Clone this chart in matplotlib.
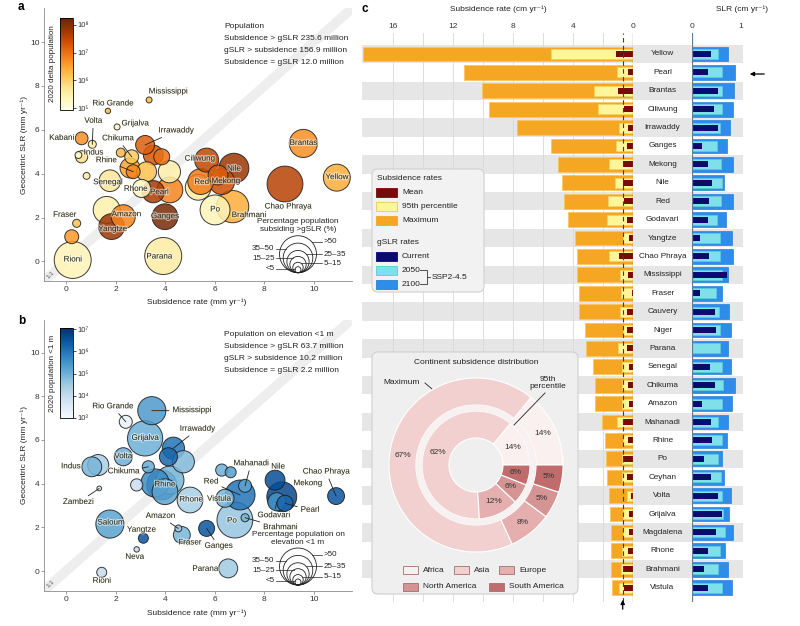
import numpy as np
import matplotlib
matplotlib.use('Agg')
import matplotlib.pyplot as plt
from matplotlib.colors import LogNorm
from matplotlib.cm import ScalarMappable
from matplotlib.patches import FancyBboxPatch, Rectangle, Circle, Wedge
from matplotlib.ticker import FixedLocator, FuncFormatter, NullLocator
import matplotlib.patheffects as pe

plt.rcParams['font.family'] = ['Liberation Sans', 'DejaVu Sans']
plt.rcParams['font.size'] = 6
plt.rcParams['axes.linewidth'] = 0.6

# ---------------- panel a data (subsidence mm/yr, gSLR mm/yr, % pop subsiding > gSLR, log10 delta pop) ----
a_names = ['Rioni', '', 'Fraser', 'Yangtze', '', 'Amazon', 'Senegal', '', 'Indus', '', 'Kabani', 'Volta',
           'Rio Grande', 'Grijalva', 'Mississippi', '', 'Chikuma', '', 'Rhine', 'Irrawaddy', '', '', '', '',
           'Rhone', 'Pearl', '', 'Ganges', 'Parana', '', 'Red', 'Ciliwung', 'Nile', '', 'Mekong', 'Brahmani',
           'Po', 'Chao Phraya', 'Brantas', 'Yellow']
a_subs = [0.27, 0.23, 0.43, 1.84, 1.64, 2.31, 1.77, 0.83, 0.50, 0.63, 0.63, 1.06,
          1.69, 2.06, 3.35, 2.21, 2.65, 2.58, 2.71, 3.19, 3.52, 3.86, 3.25, 4.17,
          3.05, 3.52, 4.19, 3.99, 3.92, 5.33, 5.43, 5.67, 6.77, 6.13, 6.28, 6.72,
          6.01, 8.83, 9.57, 10.92]
a_gslr = [0.07, 1.13, 1.74, 1.59, 2.35, 2.04, 3.68, 3.90, 4.85, 4.77, 5.61, 5.34,
          6.86, 6.13, 7.36, 4.96, 4.77, 4.26, 4.09, 5.31, 4.85, 4.77, 4.09, 4.09,
          3.33, 3.18, 3.26, 2.04, 0.25, 3.38, 3.64, 4.62, 4.25, 3.94, 3.64, 2.50,
          2.35, 3.53, 5.38, 3.82]
a_pct = [55, 16, 6, 36, 38, 33, 29, 4, 4, 13, 14, 6,
         1.5, 2.5, 2.5, 7.6, 16, 26, 16, 24.5, 26, 19.5, 26, 30,
         23, 30, 36, 36, 55, 36, 36, 33, 43, 26, 36, 47,
         43, 53, 40, 38]
a_logpop = [5.4, 6.6, 6.2, 7.8, 5.5, 6.8, 5.7, 5.6, 5.1, 5.8, 6.7, 5.6,
            6.3, 5.3, 6.3, 6.3, 6.1, 6.5, 6.8, 7.2, 7.3, 7.0, 6.2, 5.5,
            5.3, 7.7, 6.8, 8.1, 5.6, 5.6, 6.9, 7.5, 7.8, 7.2, 7.4, 6.4,
            5.4, 7.6, 6.7, 6.4]

# ---------------- panel b data (% pop on elevation <1 m, log10 pop <1 m) ----
b_names = ['Mississippi', 'Rio Grande', 'Grijalva', 'Irrawaddy', '', '', 'Volta', 'Indus', '', 'Chikuma',
           '', 'Zambezi', '', '', '', 'Rhine', 'Rhone', 'Saloum', 'Amazon', 'Fraser', 'Yangtze', 'Ganges',
           'Neva', 'Rioni', 'Parana', '', '', 'Po', 'Red', 'Vistula', 'Mahanadi', 'Brahmani', 'Mekong',
           'Nile', 'Godavari', 'Pearl', 'Chao Phraya']
b_subs = [3.46, 2.41, 3.19, 4.33, 4.13, 4.73, 2.31, 1.04, 1.30, 3.32,
          2.85, 1.34, 3.59, 4.19, 3.99, 3.86, 5.00, 1.77, 4.53, 4.67, 3.12, 5.67,
          2.85, 1.44, 6.54, 6.28, 6.64, 6.81, 7.02, 6.41, 7.22, 7.22, 8.70,
          8.43, 8.50, 8.83, 10.89]
b_gslr = [7.34, 6.83, 6.07, 5.62, 5.23, 5.00, 5.23, 4.77, 4.85, 4.77,
          3.94, 3.78, 4.03, 4.16, 3.63, 3.94, 3.25, 2.15, 1.95, 1.65, 1.50, 1.95,
          0.99, -0.06, 0.12, 4.62, 4.52, 2.33, 3.48, 3.33, 3.90, 2.44, 3.40,
          4.16, 3.17, 3.10, 3.43]
b_pct = [40, 14.4, 52, 30, 23, 30, 23, 26, 28, 13,
         13, 0.3, 40, 40, 36, 43, 36, 40, 4, 21, 9.3, 19.5,
         1.5, 9.3, 24.5, 13, 11, 53, 43, 23, 14.4, 6, 43,
         26, 23, 19.5, 21]
b_logpop = [5.4, 3.3, 5.0, 6.0, 6.2, 4.8, 5.0, 4.9, 4.4, 5.1,
            3.9, 3.5, 5.6, 4.9, 5.2, 6.1, 4.4, 5.2, 4.4, 4.9, 6.5, 6.5,
            4.0, 4.0, 4.5, 5.0, 5.3, 4.6, 6.0, 4.9, 5.2, 4.9, 6.7,
            6.6, 5.5, 6.2, 6.5]

# ---------------- panel c data (cm/yr) ----
c_names = ['Yellow', 'Pearl', 'Brantas', 'Ciliwung', 'Irrawaddy', 'Ganges', 'Mekong', 'Nile', 'Red',
           'Godavari', 'Yangtze', 'Chao Phraya', 'Mississippi', 'Fraser', 'Cauvery', 'Niger', 'Parana',
           'Senegal', 'Chikuma', 'Amazon', 'Mahanadi', 'Rhine', 'Po', 'Ceyhan', 'Volta', 'Grijalva',
           'Magdalena', 'Rhone', 'Brahmani', 'Vistula']
sub_max = [18.0, 11.3, 10.1, 9.6, 7.75, 5.5, 5.0, 4.75, 4.62, 4.33, 3.84, 3.73, 3.71, 3.62, 3.62,
           3.18, 3.11, 2.69, 2.56, 2.51, 2.04, 1.84, 1.80, 1.76, 1.62, 1.53, 1.49, 1.49, 1.44, 1.38]
sub_p95 = [5.5, 1.05, 2.6, 2.35, 0.91, 1.13, 1.62, 1.18, 1.64, 1.76, 0.64, 1.58, 0.87, 0.80, 0.87,
           0.69, 0.98, 0.76, 0.76, 0.71, 1.05, 0.64, 0.76, 0.71, 0.42, 0.64, 0.64, 0.76, 0.82, 0.91]
sub_mean = [1.13, 0.36, 0.98, 0.58, 0.31, 0.42, 0.64, 0.69, 0.58, 0.42, 0.24, 0.91, 0.36, 0.09, 0.42,
            0.38, 0.42, 0.24, 0.31, 0.27, 0.64, 0.31, 0.64, 0.42, 0.16, 0.29, 0.29, 0.36, 0.69, 0.58]
slr_now = [0.38, 0.32, 0.54, 0.45, 0.54, 0.20, 0.33, 0.41, 0.35, 0.32, 0.16, 0.35, 0.71, 0.16, 0.47,
           0.48, 0.03, 0.37, 0.47, 0.20, 0.39, 0.40, 0.24, 0.39, 0.52, 0.61, 0.49, 0.33, 0.24, 0.33]
slr_2050 = [0.52, 0.61, 0.61, 0.61, 0.57, 0.50, 0.59, 0.61, 0.59, 0.50, 0.57, 0.57, 0.61, 0.48, 0.55,
            0.57, 0.57, 0.62, 0.64, 0.61, 0.52, 0.61, 0.54, 0.59, 0.61, 0.64, 0.67, 0.57, 0.52, 0.62]
slr_2100 = [0.74, 0.88, 0.85, 0.83, 0.78, 0.71, 0.84, 0.66, 0.84, 0.69, 0.81, 0.83, 0.73, 0.62, 0.76,
            0.79, 0.74, 0.79, 0.88, 0.82, 0.73, 0.71, 0.62, 0.65, 0.80, 0.76, 0.84, 0.67, 0.73, 0.81]
ref_rate = 0.67

cont_names = ['Africa', 'Asia', 'Europe', 'North America', 'South America']
max_share = [14, 67, 8, 5, 5]
p95_share = [14, 62, 12, 6, 6]

size_cats = ['<5', '5\u201315', '15\u201325', '25\u201335', '35\u201350', '>50']
size_rep = [2.5, 10, 20, 30, 42.5, 55]

a_totals = ['Population', 'Subsidence > gSLR 235.6 million', 'gSLR > subsidence 156.9 million',
            'Subsidence = gSLR 12.0 million']
b_totals = ['Population on elevation <1 m', 'Subsidence > gSLR 63.7 million',
            'gSLR > subsidence 10.2 million', 'Subsidence = gSLR 2.2 million']

# ---------------- label placement (px offsets dx, dy(down), leader) ----
a_lab = {'Mississippi': (19, -8, 0), 'Rio Grande': (5, -7, 0), 'Grijalva': (18, -3, 0),
         'Volta': (1, -23, 1), 'Kabani': (-20, 0, 0), 'Indus': (15, -2, 0), 'Chikuma': (-14, -18, 1),
         'Rhine': (-27, -11, 1), 'Irrawaddy': (31, -14, 1), 'Senegal': (-2, 2, 0), 'Rhone': (-6, 1, 0),
         'Pearl': (6, 1, 0), 'Amazon': (3, -2, 0), 'Yangtze': (1, 3, 0), 'Ganges': (0, 0, 0),
         'Parana': (-4, 1, 0), 'Fraser': (-12, -8, 0), 'Rioni': (0, 0, 0), 'Ciliwung': (-7, -1, 0),
         'Nile': (0, 1, 0), 'Red': (1, 1, 0), 'Mekong': (4, 0, 0), 'Po': (0, 0, 0),
         'Brahmani': (16, 9, 0), 'Chao Phraya': (3, 23, 0), 'Brantas': (0, 0, 0), 'Yellow': (0, 0, 0)}
b_lab = {'Mississippi': (40, 0, 1), 'Rio Grande': (-13, -15, 1), 'Grijalva': (0, 0, 0),
         'Irrawaddy': (24, -19, 1), 'Volta': (0, 0, 0), 'Indus': (-21, 0, 0), 'Chikuma': (-25, 5, 1),
         'Zambezi': (-21, 14, 1), 'Rhine': (3, 0, 0), 'Rhone': (1, 0, 0), 'Saloum': (1, -1, 0),
         'Amazon': (-18, -12, 1), 'Fraser': (8, 8, 0), 'Yangtze': (-2, -8, 0), 'Ganges': (12, 18, 1),
         'Neva': (-2, 8, 0), 'Rioni': (0, 9, 0), 'Parana': (-23, 1, 0), 'Mahanadi': (6, -22, 1),
         'Red': (-29, -13, 1), 'Vistula': (-6, 1, 0), 'Po': (-3, 1, 0), 'Brahmani': (35, 10, 1),
         'Nile': (3, -13, 0), 'Mekong': (26, -13, 0), 'Godavari': (-3, 14, 1), 'Pearl': (25, 7, 1),
         'Chao Phraya': (-10, -24, 1)}

W, H = 800, 626
fig = plt.figure(figsize=(8, 6.26), dpi=100)


def px_axes(x0, y0, x1, y1):
    return fig.add_axes([x0 / W, 1 - y1 / H, (x1 - x0) / W, (y1 - y0) / H])


def rad_px(p):
    return 2.26 + 0.295 * np.asarray(p, dtype=float)


SUP = str.maketrans('0123456789-', '\u2070\u00b9\u00b2\u00b3\u2074\u2075\u2076\u2077\u2078\u2079\u207b')


def sup_fmt(v, pos=None):
    return '10' + str(int(round(np.log10(v)))).translate(SUP)


TXT = '#2b2b14'
halo = [pe.withStroke(linewidth=1.6, foreground='#ffffff', alpha=0.55)]


def bubble_panel(ax, names, xs, ys, pct, logpop, cmap, norm, labs, ylim):
    xs = np.asarray(xs); ys = np.asarray(ys)
    r = rad_px(pct)
    order = np.argsort(-r)
    vals = 10 ** np.asarray(logpop)
    ax.plot([-2, 13], [-2, 13], color='#EEEEEE', lw=7, zorder=0, solid_capstyle='butt')
    ax.scatter(xs[order], ys[order], s=(1.44 * r[order]) ** 2, c=vals[order], cmap=cmap, norm=norm,
               edgecolors='#1a1a1a', linewidths=0.7, alpha=0.85, zorder=2)
    for n, x, y in zip(names, xs, ys):
        if not n:
            continue
        dx, dy, lead = labs[n]
        ap = dict(arrowstyle='-', color='#222222', lw=0.6, shrinkA=0.5, shrinkB=0) if lead else None
        ax.annotate(n, xy=(x, y), xytext=(dx * 0.72, -dy * 0.72), textcoords='offset points',
                    ha='center', va='center', fontsize=5.8, color=TXT, zorder=4,
                    path_effects=halo, arrowprops=ap)
    ax.set_xlim(-0.875, 11.52)
    ax.set_ylim(*ylim)
    ax.set_xticks([0, 2, 4, 6, 8, 10])
    ax.set_yticks([0, 2, 4, 6, 8, 10])
    for sp in ['top', 'right']:
        ax.spines[sp].set_visible(False)
    for sp in ['left', 'bottom']:
        ax.spines[sp].set_color('#8c8c8c')
    ax.tick_params(length=2, width=0.6, color='#8c8c8c', labelsize=6, labelcolor='#333333', pad=1.5)
    ax.patch.set_alpha(0)
    ax.text(-0.62, -0.6, '1:1', rotation=45, fontsize=4.5, color='#555555', ha='center', va='center')


# ---------------- panel a ----------------
axA = px_axes(44.3, 8, 351.7, 280.7)
normA = LogNorm(10 ** 4.93, 10 ** 8.25)
bubble_panel(axA, a_names, a_subs, a_gslr, a_pct, a_logpop, 'YlOrBr', normA, a_lab, (-0.875, 11.55))
caxA = px_axes(60, 18, 73, 110)
cbA = fig.colorbar(ScalarMappable(norm=normA, cmap='YlOrBr'), cax=caxA)
cbA.set_ticks([1e5, 1e6, 1e7, 1e8])

# ---------------- panel b ----------------
axB = px_axes(44.3, 320, 351.7, 591)
normB = LogNorm(1e3, 10 ** 7.05)
bubble_panel(axB, b_names, b_subs, b_gslr, b_pct, b_logpop, 'Blues', normB, b_lab, (-0.915, 11.49))
caxB = px_axes(60, 328, 73, 418)
cbB = fig.colorbar(ScalarMappable(norm=normB, cmap='Blues'), cax=caxB)
cbB.set_ticks([1e3, 1e4, 1e5, 1e6, 1e7])

for cb in (cbA, cbB):
    cb.ax.yaxis.set_major_formatter(FuncFormatter(sup_fmt))
    cb.ax.yaxis.set_minor_locator(NullLocator())
    cb.ax.tick_params(labelsize=5.5, length=2, width=0.5, pad=1.5, labelcolor='#333333')
    cb.outline.set_linewidth(0.6)

# ---------------- panel c ----------------
rows = np.arange(len(c_names))
YL = (29.78, -1.14)
axL = px_axes(362, 33, 633, 602)
axM = px_axes(633, 33, 692, 602)
axR = px_axes(692, 33, 743, 602)
for ax in (axL, axM, axR):
    for i in rows:
        if i % 2 == 0:
            ax.axhspan(i - 0.5, i + 0.5, color='#E6E6E6', lw=0, zorder=0)
    ax.set_ylim(*YL)
    for sp in ax.spines.values():
        sp.set_visible(False)
    ax.set_yticks([])

for g in range(2, 17, 2):
    axL.axvline(g, color='#D8D8D8', lw=0.6, zorder=0.5)
axL.barh(rows, sub_max, height=0.8, color='#F5A623', edgecolor='#F9C65E', lw=0.6, zorder=2)
axL.barh(rows, sub_p95, height=0.55, color='#FFF59A', edgecolor='#F2D45E', lw=0.6, zorder=3)
axL.barh(rows, sub_mean, height=0.32, color='#7A0A0A', lw=0, zorder=4)
axL.axvline(0, color='#8B7355', lw=0.9, zorder=5)
axL.axvline(ref_rate, color='#4a3a2a', lw=0.8, ls=(0, (4, 3)), zorder=5)
axL.set_xlim(18.07, 0)
axL.set_xticks([16, 12, 8, 4, 0])
axL.tick_params(axis='x', top=True, bottom=False, labeltop=True, labelbottom=False, length=0,
                pad=2, labelsize=6, labelcolor='#333333')

axM.set_xlim(0, 1)
axM.set_xticks([])
for i, n in zip(rows, c_names):
    axM.text(0.5, i, n, ha='center', va='center', fontsize=5.9, color='#222222')

axR.barh(rows, slr_2100, height=0.8, color='#2E8DEA', edgecolor='#2A7FD8', lw=0.5, zorder=2)
axR.barh(rows, slr_2050, height=0.55, color='#7FE0EA', edgecolor='#63CCDA', lw=0.5, zorder=3)
axR.barh(rows, slr_now, height=0.32, color='#0B0B6E', lw=0, zorder=4)
axR.axvline(0, color='#5f7f9a', lw=0.9, zorder=5)
axR.set_xlim(0, 1.04)
axR.set_xticks([0, 1])
axR.tick_params(axis='x', top=True, bottom=False, labeltop=True, labelbottom=False, length=0,
                pad=2, labelsize=6, labelcolor='#333333')

# ---------------- overlay (pixel coords) ----------------
ov = fig.add_axes([0, 0, 1, 1])
ov.set_xlim(0, W); ov.set_ylim(H, 0); ov.axis('off'); ov.set_zorder(5)


def T(x, y, s, **kw):
    kw.setdefault('va', 'center'); kw.setdefault('ha', 'left'); kw.setdefault('fontsize', 6)
    kw.setdefault('color', '#222222')
    return ov.text(x, y, s, **kw)


T(18, 7, 'a', fontsize=8.5, fontweight='bold', color='black')
T(18, 321, 'b', fontsize=8.5, fontweight='bold', color='black')
T(362, 9, 'c', fontsize=8.5, fontweight='bold', color='black')

for k, s in enumerate(a_totals):
    T(224, 27 + 11.7 * k, s, fontsize=6)
for k, s in enumerate(b_totals):
    T(224, 335 + 11.7 * k, s, fontsize=6)

T(197, 302, 'Subsidence rate (mm yr\u207b\u00b9)', ha='center', fontsize=6)
T(197, 613, 'Subsidence rate (mm yr\u207b\u00b9)', ha='center', fontsize=6)
T(24, 145, 'Geocentric SLR (mm yr\u207b\u00b9)', ha='center', rotation=90, fontsize=6)
T(24, 455, 'Geocentric SLR (mm yr\u207b\u00b9)', ha='center', rotation=90, fontsize=6)
T(53, 64, '2020 delta population', ha='center', rotation=90, fontsize=5.8)
T(53, 373, '2020 population <1 m', ha='center', rotation=90, fontsize=5.8)
T(498, 9, 'Subsidence rate (cm yr\u207b\u00b9)', ha='center', fontsize=6)
T(742, 9, 'SLR (cm yr\u207b\u00b9)', ha='center', fontsize=6)


def size_legend(cx, by, title, ly):
    radii = rad_px(size_rep)
    for r in radii[::-1]:
        ov.add_patch(Circle((cx, by - r), r, fill=False, ec='#222222', lw=0.6))
    T(cx, by - 47, title, ha='center', fontsize=5.9, linespacing=1.2)
    sides = [-1, 1, -1, 1, -1, 1]
    for k in range(6):
        r = radii[k]; cy = by - r; yy = ly[k]; s = sides[k]
        d = abs(yy - cy)
        dx = np.sqrt(max(r * r - d * d, 0))
        xe = cx + s * dx
        xl = cx - 22 if s < 0 else cx + 24
        ov.plot([xl, xe], [yy, yy], color='#222222', lw=0.5)
        T(xl + (-1.5 if s < 0 else 1.5), yy, size_cats[k], ha='right' if s < 0 else 'left', fontsize=5.8)


size_legend(298, 272.7, 'Percentage population\nsubsiding >gSLR (%)', [269, 263.3, 258.3, 254, 249, 241.7])
size_legend(298, 585, 'Percentage population on\nelevation <1 m', [581, 576.7, 570, 566, 561, 555])

# panel c legend box
ov.add_patch(FancyBboxPatch((372, 169), 112, 123, boxstyle='round,pad=0,rounding_size=6',
                            fc='#F2F2F2', ec='#D0D0D0', lw=0.8))
T(377, 179, 'Subsidence rates')
leg_items = [(192, '#7A0A0A', None, 'Mean'), (206, '#FFF59A', '#E8C860', '95th percentile'),
             (220, '#F5A623', '#F5A623', 'Maximum'), (256, '#0B0B6E', None, 'Current'),
             (270, '#7FE0EA', '#5CC8D8', '2050'), (284, '#2E8DEA', '#2A7FD8', '2100')]
for yy, fc, ec, lab in leg_items:
    ov.add_patch(Rectangle((376, yy - 4.5), 21, 9, fc=fc, ec=ec if ec else fc, lw=0.6))
    T(402, yy, lab)
T(377, 243, 'gSLR rates')
ov.plot([420, 427, 427, 420], [270, 270, 284, 284], color='#333333', lw=0.6)
ov.plot([427, 430], [277, 277], color='#333333', lw=0.6)
T(432, 277.5, 'SSP2-4.5')

# arrows
ov.annotate('', xy=(747, 74), xytext=(767, 74),
            arrowprops=dict(arrowstyle='-|>', color='black', lw=0.9, mutation_scale=6))
ov.annotate('', xy=(622.7, 597), xytext=(622.7, 612),
            arrowprops=dict(arrowstyle='-|>', color='black', lw=0.9, mutation_scale=6))

# donut inset box
ov.add_patch(FancyBboxPatch((372, 352), 206, 242, boxstyle='round,pad=0,rounding_size=6',
                            fc='#EFEFEF', ec='#D0D0D0', lw=0.8))
T(476, 363, 'Continent subsidence distribution', ha='center')
T(402, 382, 'Maximum', ha='center')
ov.plot([425, 432], [383, 389], color='#222222', lw=0.6)
T(548, 383, '95th\npercentile', ha='center', linespacing=1.1)

cont_colors = ['#FBF0F0', '#F2D0D0', '#E5AFAF', '#D49494', '#C06C6C']
leg_cont = [(403, 570), (454, 570), (499, 570), (403, 587), (489, 587)]
for (xx, yy), c, n in zip(leg_cont, cont_colors, cont_names):
    ov.add_patch(Rectangle((xx, yy - 4), 15, 8, fc=c, ec='#A07070', lw=0.6))
    T(xx + 20, yy, n)

axD = px_axes(386, 375, 566, 555)
axD.set_zorder(6)
wo, _ = axD.pie(max_share, radius=0.967, startangle=0, counterclock=True, colors=cont_colors,
                wedgeprops=dict(width=0.3, edgecolor='white', linewidth=0.8))
wi, _ = axD.pie(p95_share, radius=0.6, startangle=0, counterclock=True, colors=cont_colors,
                wedgeprops=dict(width=0.3, edgecolor='white', linewidth=0.8))
axD.add_patch(Wedge((0, 0), 0.667, 0, 360, width=0.067, fc='#F7F1F1', ec='none'))
for wedges, vals, rl in ((wo, max_share, 0.817), (wi, p95_share, 0.45)):
    for w, v in zip(wedges, vals):
        ang = np.deg2rad((w.theta1 + w.theta2) / 2)
        axD.text(rl * np.cos(ang), rl * np.sin(ang), f'{v}%', ha='center', va='center',
                 fontsize=6, color='#333333')
axD.plot([545, 514], [393, 425], transform=ov.transData, color='#222222', lw=0.6, clip_on=False)
axD.set_xlim(-1, 1); axD.set_ylim(-1, 1)
axD.set_aspect('equal'); axD.axis('off')

fig.savefig('out.png', dpi=100)
